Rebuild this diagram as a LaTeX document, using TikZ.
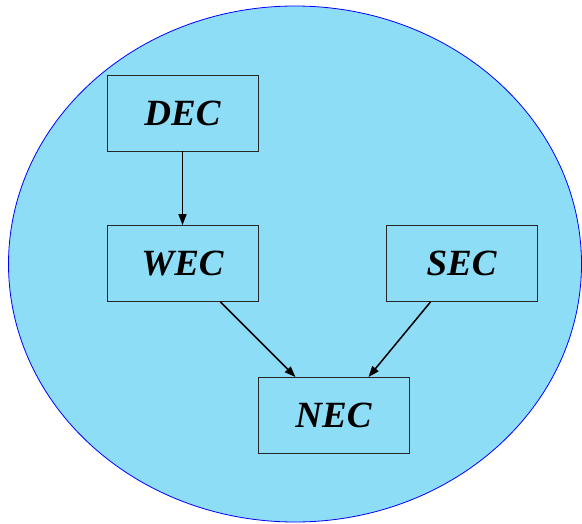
\documentclass[tikz,border=0pt]{standalone}
\usepackage{fontspec}
\setmainfont{Liberation Serif}
\usetikzlibrary{arrows.meta,shapes.geometric}
\definecolor{bgfill}{HTML}{8EDDF6}
\begin{document}
\begin{tikzpicture}[x=1pt,y=-1pt,
  box/.style={draw=black!85, line width=0.9pt, minimum width=151pt, minimum height=76pt, inner sep=0pt,
    font=\fontsize{37}{40}\selectfont\bfseries\itshape},
  conn/.style={line width=1.5pt, -{Triangle[length=11pt,width=8pt]}}]
\useasboundingbox (0,0) rectangle (582,523);
\node[draw=blue, fill=bgfill, line width=0.8pt, ellipse, minimum width=573pt, minimum height=516pt, inner sep=0pt] (bg) at (295,264) {};
\node[box] (dec) at (182.5,113) {DEC};
\node[box] (wec) at (182.5,263.5) {WEC};
\node[box] (sec) at (461.5,263.5) {SEC};
\node[box] (nec) at (333.5,415.5) {NEC};
\draw[conn] (dec.south) -- (wec.north);
\draw[conn] ([xshift=38pt]wec.south) -- ([xshift=-38pt]nec.north);
\draw[conn] ([xshift=-31pt]sec.south) -- ([xshift=35pt]nec.north);
\end{tikzpicture}
\end{document}
